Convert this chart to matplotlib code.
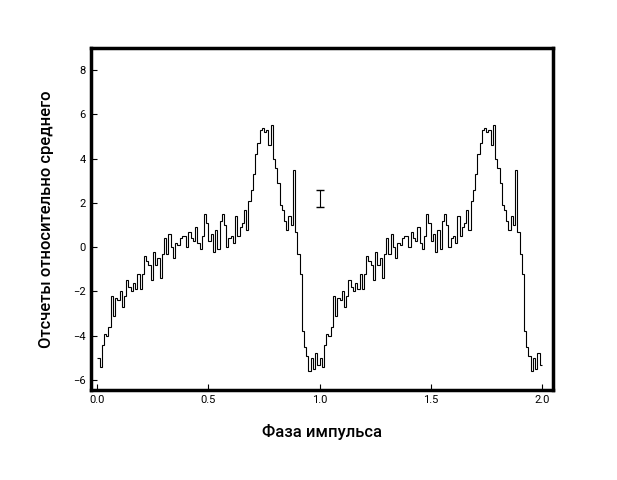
import matplotlib
matplotlib.use("Agg")
import matplotlib.pyplot as plt
import numpy as np

plt.rcParams['font.family'] = ['Roboto', 'DejaVu Sans']

profile = [
    -5.0,-5.4,-4.4,-3.9,-4.0,-3.6,-2.2,-3.1,-2.3,-2.4,
    -2.0,-2.7,-2.2,-1.5,-1.8,-2.0,-1.6,-1.9,-1.2,-1.9,
    -1.2,-0.4,-0.6,-0.8,-1.5,-0.2,-0.8,-0.5,-1.4,-0.3,
    0.4,-0.3,0.6,0.0,-0.5,0.2,0.1,0.4,0.5,0.5,
    0.0,0.7,0.4,0.3,0.9,0.2,-0.1,0.5,1.5,1.1,
    0.3,0.6,-0.2,0.8,-0.1,1.2,1.5,1.0,0.0,0.4,
    0.5,0.2,1.4,0.5,0.9,1.1,1.7,0.8,2.1,2.6,
    3.3,4.2,4.7,5.3,5.4,5.2,5.3,4.6,5.5,4.0,
    3.6,2.9,1.9,1.7,1.2,0.8,1.4,1.0,3.5,0.7,
    -0.3,-1.2,-3.8,-4.5,-4.9,-5.6,-5.0,-5.5,-4.8,-5.3,
]
n_cycles = 2
err_x, err_y, err_size = 1.0, 2.2, 0.4

values = np.array(profile * n_cycles)
edges = np.linspace(0, n_cycles, len(values) + 1)

fig = plt.figure(figsize=(6.17, 4.80), dpi=100)
ax = fig.add_axes([0.147, 0.1875, 0.749, 0.7125])
ax.stairs(values, edges, baseline=None, color='black', linewidth=0.8)
ax.errorbar([err_x], [err_y], yerr=[err_size], color='black', capsize=3, linewidth=0.8)
ax.set_xlim(-0.03, 2.05)
ax.set_ylim(-6.45, 9.0)
ax.set_xticks([0.0, 0.5, 1.0, 1.5, 2.0])
ax.set_yticks([-6, -4, -2, 0, 2, 4, 6, 8])
ax.tick_params(direction='in', labelsize=8, length=4)
for s in ax.spines.values():
    s.set_linewidth(2.5)
ax.set_xlabel('Фаза импульса', fontsize=12, fontweight='medium', labelpad=14)
ax.set_ylabel('Отсчеты относительно среднего', fontsize=12, fontweight='medium', labelpad=14)
fig.savefig('out.png', dpi=100)
